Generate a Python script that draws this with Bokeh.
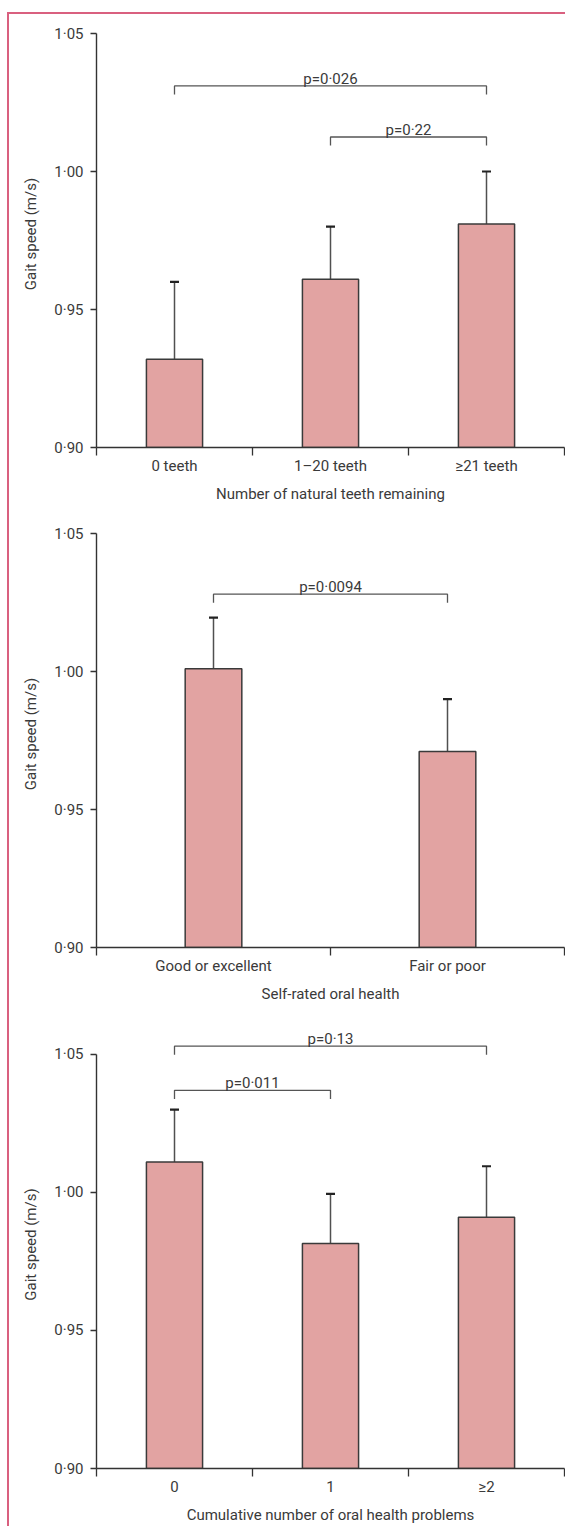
from bokeh.plotting import figure
from bokeh.layouts import column
from bokeh.models import FixedTicker, Range1d, CustomJSTickFormatter
from bokeh.core.properties import value
from bokeh.embed import file_html
from bokeh.resources import INLINE

# ---------------- data ----------------
y_ticks = [0.90, 0.95, 1.00, 1.05]

# Panel A: number of natural teeth remaining
teeth_categories = ["0 teeth", "1–20 teeth", "≥21 teeth"]
teeth_mean = [0.932, 0.961, 0.981]
teeth_upper = [0.960, 0.980, 1.000]
teeth_br_from = [0, 1]
teeth_br_to = [2, 2]
teeth_br_level = [1.031, 1.0125]
teeth_br_text = ["p=0·026", "p=0·22"]

# Panel B: self-rated oral health
rated_categories = ["Good or excellent", "Fair or poor"]
rated_mean = [1.001, 0.971]
rated_upper = [1.0195, 0.990]
rated_br_from = [0]
rated_br_to = [1]
rated_br_level = [1.028]
rated_br_text = ["p=0·0094"]

# Panel C: cumulative number of oral health problems
probs_categories = ["0", "1", "≥2"]
probs_mean = [1.011, 0.9815, 0.991]
probs_upper = [1.030, 0.9995, 1.0095]
probs_br_from = [0, 0]
probs_br_to = [1, 2]
probs_br_level = [1.037, 1.053]
probs_br_text = ["p=0·011", "p=0·13"]

# ---------------- style ----------------
FONT = "Roboto"
FS = "15px"
TXT = "#3a3a3a"
AXC = "#333333"
BAR_FILL = "#e2a3a2"
BAR_LINE = "#3a3a3a"
BR_COLOR = "#555555"
BR_DROP = 0.0031
PINK = "#d9607f"


def panel(cats, mean, upper, bfrom, bto, blevel, btext, xlabel, bar_w,
          height, top, bottom, y_end):
    n = len(cats)
    xs = [i + 0.5 for i in range(n)]
    p = figure(width=556, height=height, x_range=Range1d(0, n),
               y_range=Range1d(0.90, y_end), output_backend="svg",
               toolbar_location=None, min_border_left=87, min_border_right=1,
               min_border_top=top, min_border_bottom=bottom)
    p.xgrid.visible = False
    p.ygrid.visible = False
    p.outline_line_color = None
    p.background_fill_color = "white"
    p.border_fill_color = "white"

    # error bars
    p.segment(x0=xs, y0=mean, x1=xs, y1=upper, line_color="#505050", line_width=1.5)
    p.scatter(x=xs, y=upper, marker="dash", size=9, line_width=2.2, line_color="#222222")
    # bars
    p.vbar(x=xs, top=mean, bottom=0.90, width=bar_w, fill_color=BAR_FILL,
           line_color=BAR_LINE, line_width=1.5)

    # significance brackets
    bx, by, tx, ty = [], [], [], []
    for a, b, lv in zip(bfrom, bto, blevel):
        ca, cb = xs[a], xs[b]
        bx.append([ca, ca, cb, cb])
        by.append([lv - BR_DROP, lv, lv, lv - BR_DROP])
        tx.append((ca + cb) / 2)
        ty.append(lv)
    p.multi_line(xs=bx, ys=by, line_color=BR_COLOR, line_width=1.3)
    p.text(x=tx, y=ty, text=btext, text_font=value(FONT), text_font_size=FS,
           text_color=TXT, text_align="center", text_baseline="alphabetic",
           y_offset=-7)

    # y axis
    ya = p.yaxis[0]
    ya.ticker = FixedTicker(ticks=y_ticks)
    ya.bounds = (0.90, 1.05)
    ya.formatter = CustomJSTickFormatter(code="return tick.toFixed(2).replace('.', '\u00b7');")
    ya.minor_tick_line_color = None
    ya.major_tick_in = 0
    ya.major_tick_out = 6
    ya.major_tick_line_color = AXC
    ya.major_tick_line_width = 1.3
    ya.axis_line_color = AXC
    ya.axis_line_width = 1.4
    ya.major_label_standoff = 7
    ya.major_label_text_font = FONT
    ya.major_label_text_font_size = FS
    ya.major_label_text_color = TXT
    ya.axis_label = "Gait speed (m/s)"
    ya.axis_label_text_font = FONT
    ya.axis_label_text_font_size = FS
    ya.axis_label_text_font_style = "normal"
    ya.axis_label_text_color = TXT
    ya.axis_label_standoff = 11

    # x axis
    xa = p.xaxis[0]
    xa.ticker = FixedTicker(ticks=xs, minor_ticks=list(range(n + 1)))
    xa.major_label_overrides = {x: c for x, c in zip(xs, cats)}
    xa.major_tick_in = 0
    xa.major_tick_out = 0
    xa.minor_tick_in = 0
    xa.minor_tick_out = 8
    xa.minor_tick_line_color = AXC
    xa.minor_tick_line_width = 1.3
    xa.axis_line_color = AXC
    xa.axis_line_width = 1.4
    xa.major_label_standoff = 1
    xa.major_label_text_font = FONT
    xa.major_label_text_font_size = FS
    xa.major_label_text_color = TXT
    xa.axis_label = xlabel
    xa.axis_label_text_font = FONT
    xa.axis_label_text_font_size = FS
    xa.axis_label_text_font_style = "normal"
    xa.axis_label_text_color = TXT
    xa.axis_label_standoff = 7
    return p


p1 = panel(teeth_categories, teeth_mean, teeth_upper, teeth_br_from, teeth_br_to,
           teeth_br_level, teeth_br_text, "Number of natural teeth remaining",
           0.36, 500, 6, 67, 1.05 + 13 / 2760)
p2 = panel(rated_categories, rated_mean, rated_upper, rated_br_from, rated_br_to,
           rated_br_level, rated_br_text, "Self-rated oral health",
           0.242, 500, 6, 67, 1.05 + 13 / 2760)
p3 = panel(probs_categories, probs_mean, probs_upper, probs_br_from, probs_br_to,
           probs_br_level, probs_br_text, "Cumulative number of oral health problems",
           0.36, 512, 6, 57, 1.05 + 34 / 2766)

layout = column(p1, p2, p3, spacing=0, margin=(12, 0, 0, 7),
                styles={"border-left": f"2px solid {PINK}",
                        "border-top": f"2px solid {PINK}"})

open("out.html", "w").write(file_html(layout, INLINE))
